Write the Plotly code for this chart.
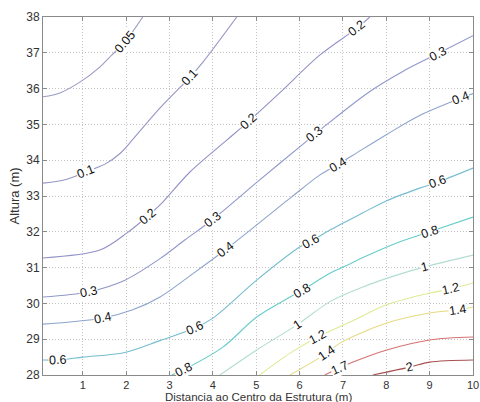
import numpy as np
import plotly.graph_objects as go

# contour levels and their labels
levels = [0.05, 0.1, 0.2, 0.3, 0.4, 0.6, 0.8, 1, 1.2, 1.4, 1.7, 2]
level_text = ["0.05", "0.1", "0.2", "0.3", "0.4", "0.6", "0.8", "1", "1.2", "1.4", "1.7", "2"]

# contour lines (x: distance m, y: height m)
c005_x = [0.08, 0.47, 0.93, 1.39, 1.67, 1.97, 2.38]
c005_y = [35.77, 35.88, 36.18, 36.60, 36.94, 37.30, 38.00]

c01_x = [0.08, 0.63, 1.05, 1.51, 1.85, 2.08, 2.78, 3.47, 3.77, 4.55]
c01_y = [33.36, 33.47, 33.67, 33.89, 34.18, 34.48, 35.46, 36.32, 36.74, 38.00]

c02_x = [0.08, 1.39, 2.02, 2.48, 2.78, 3.47, 4.32, 4.81, 5.54, 6.47, 7.32, 7.62]
c02_y = [31.27, 31.49, 31.97, 32.42, 32.75, 33.67, 34.56, 35.07, 35.88, 36.94, 37.69, 38.00]

c03_x = [0.08, 1.12, 1.97, 2.78, 3.35, 3.98, 5.08, 6.17, 6.63, 7.62, 8.38, 9.19, 10.0]
c03_y = [30.18, 30.32, 30.65, 31.25, 31.77, 32.33, 33.45, 34.54, 35.00, 35.92, 36.48, 36.98, 37.48]

c04_x = [0.08, 0.70, 1.46, 2.15, 2.78, 3.47, 4.28, 5.78, 6.47, 6.88, 7.23, 8.01, 8.77, 9.77, 10.0]
c04_y = [29.42, 29.48, 29.59, 29.82, 30.18, 30.77, 31.49, 32.94, 33.59, 33.88, 34.14, 34.72, 35.25, 35.76, 35.86]

c06_x = [0.08, 0.42, 1.00, 1.97, 2.78, 3.58, 4.00, 5.01, 6.01, 6.24, 6.70, 7.46, 8.01, 8.77, 9.17, 10.0]
c06_y = [28.42, 28.42, 28.50, 28.63, 28.96, 29.31, 29.59, 30.65, 31.58, 31.72, 32.05, 32.53, 32.87, 33.22, 33.38, 33.78]

c08_x = [3.05, 3.31, 4.23, 5.01, 5.78, 6.05, 6.70, 7.16, 7.46, 8.24, 9.00, 10.0]
c08_y = [28.00, 28.14, 28.78, 29.62, 30.18, 30.36, 30.84, 31.10, 31.28, 31.69, 32.00, 32.41]

c10_x = [4.16, 5.01, 5.94, 6.70, 7.46, 8.24, 8.89, 10.0]
c10_y = [28.00, 28.70, 29.40, 30.05, 30.46, 30.79, 31.02, 31.35]

c12_x = [5.08, 5.78, 6.42, 7.16, 8.01, 9.00, 9.47, 10.0]
c12_y = [28.00, 28.61, 29.06, 29.48, 29.96, 30.29, 30.40, 30.57]

c14_x = [5.78, 6.63, 6.93, 8.01, 9.00, 9.65, 10.0]
c14_y = [28.00, 28.61, 28.89, 29.45, 29.73, 29.82, 29.90]

c17_x = [6.58, 6.93, 7.23, 8.01, 9.00, 10.0]
c17_y = [28.00, 28.20, 28.36, 28.70, 28.98, 29.06]

c20_x = [7.69, 8.54, 9.00, 10.0]
c20_y = [28.00, 28.22, 28.36, 28.42]

# where each line carries its inline label (x positions)
lab005_x = [1.97]
lab01_x = [1.05, 3.47]
lab02_x = [2.48, 4.81, 7.32]
lab03_x = [1.12, 3.98, 6.35, 9.19]
lab04_x = [1.46, 4.28, 6.88, 9.72]
lab06_x = [0.42, 3.58, 6.24, 9.17]
lab08_x = [3.31, 6.05, 9.00]
lab10_x = [5.94, 8.89]
lab12_x = [6.42, 9.47]
lab14_x = [6.63, 9.65]
lab17_x = [6.93]
lab20_x = [8.54]

x_ticks = [1, 2, 3, 4, 5, 6, 7, 8, 9, 10]
y_ticks = [28, 29, 30, 31, 32, 33, 34, 35, 36, 37, 38]
x_title = "Distancia ao Centro da Estrutura (m)"
y_title = "Altura (m)"

line_colors = ["#9a9ac4", "#9696c6", "#9292c8", "#9098ca", "#8ea4cc", "#74bcd0",
               "#66ccca", "#b2dcd2", "#dceb96", "#e6da80", "#d67272", "#a85050"]

lines_x = [c005_x, c01_x, c02_x, c03_x, c04_x, c06_x, c08_x, c10_x, c12_x, c14_x, c17_x, c20_x]
lines_y = [c005_y, c01_y, c02_y, c03_y, c04_y, c06_y, c08_y, c10_y, c12_y, c14_y, c17_y, c20_y]
labels_x = [lab005_x, lab01_x, lab02_x, lab03_x, lab04_x, lab06_x, lab08_x, lab10_x,
            lab12_x, lab14_x, lab17_x, lab20_x]

W, H = 480, 402
ML, MR, MT, MB = 43, 7, 17, 27
XR = [0.08, 10.0]
YR = [28, 38]
px_per_x = (W - ML - MR) / (XR[1] - XR[0])
px_per_y = (H - MT - MB) / (YR[1] - YR[0])

FONT = "Liberation Sans, Arial, sans-serif"

fig = go.Figure()
annotations = []
for lv, txt, xs, ys, lxs, col in zip(levels, level_text, lines_x, lines_y, labels_x, line_colors):
    fig.add_trace(go.Scatter(x=xs, y=ys, mode="lines",
                             line=dict(color=col, width=1.1, shape="spline", smoothing=0.9),
                             hoverinfo="skip", showlegend=False, name=txt))
    xa = np.array(xs)
    ya = np.array(ys)
    for lx in lxs:
        ly = float(np.interp(lx, xa, ya))
        d = 0.22
        y1 = float(np.interp(lx - d, xa, ya))
        y2 = float(np.interp(lx + d, xa, ya))
        ang = -np.degrees(np.arctan2((y2 - y1) * px_per_y, 2 * d * px_per_x))
        annotations.append(dict(x=lx, y=ly, xref="x", yref="y", text=txt, showarrow=False,
                                textangle=float(ang),
                                font=dict(size=12.5, color="#111111", family=FONT),
                                bgcolor="white", borderpad=0, xanchor="center", yanchor="middle"))

# x axis title as a paper annotation placed at the bottom edge
annotations.append(dict(x=0.5, y=0, xref="paper", yref="paper", text=x_title, showarrow=False,
                        xanchor="center", yanchor="bottom", yshift=-MB - 2, borderpad=0,
                        font=dict(size=11.5, color="#333333", family=FONT)))

axis_common = dict(showline=True, linecolor="#8a8a8a", linewidth=1, mirror="ticks",
                   ticks="inside", ticklen=4, tickcolor="#8a8a8a",
                   showgrid=True, gridcolor="#c4c4c4", griddash="1px,2px", gridwidth=1,
                   zeroline=False, automargin=False)

fig.update_layout(
    width=W, height=H,
    margin=dict(l=ML, r=MR, t=MT, b=MB, pad=0),
    paper_bgcolor="white", plot_bgcolor="white",
    xaxis=dict(range=XR, tickmode="array", tickvals=x_ticks, ticktext=[str(v) for v in x_ticks],
               tickfont=dict(size=11, color="#333333", family=FONT),
               **axis_common),
    yaxis=dict(range=YR, tickmode="array", tickvals=y_ticks, ticktext=[str(v) for v in y_ticks],
               tickfont=dict(size=12, color="#333333", family=FONT),
               title=dict(text=y_title, standoff=3,
                          font=dict(size=13, color="#333333", family=FONT)),
               **axis_common),
    annotations=annotations,
)

fig.write_html("out.html", config={"displayModeBar": False},
               post_script="document.body.style.margin='0';document.body.style.overflow='hidden';")
